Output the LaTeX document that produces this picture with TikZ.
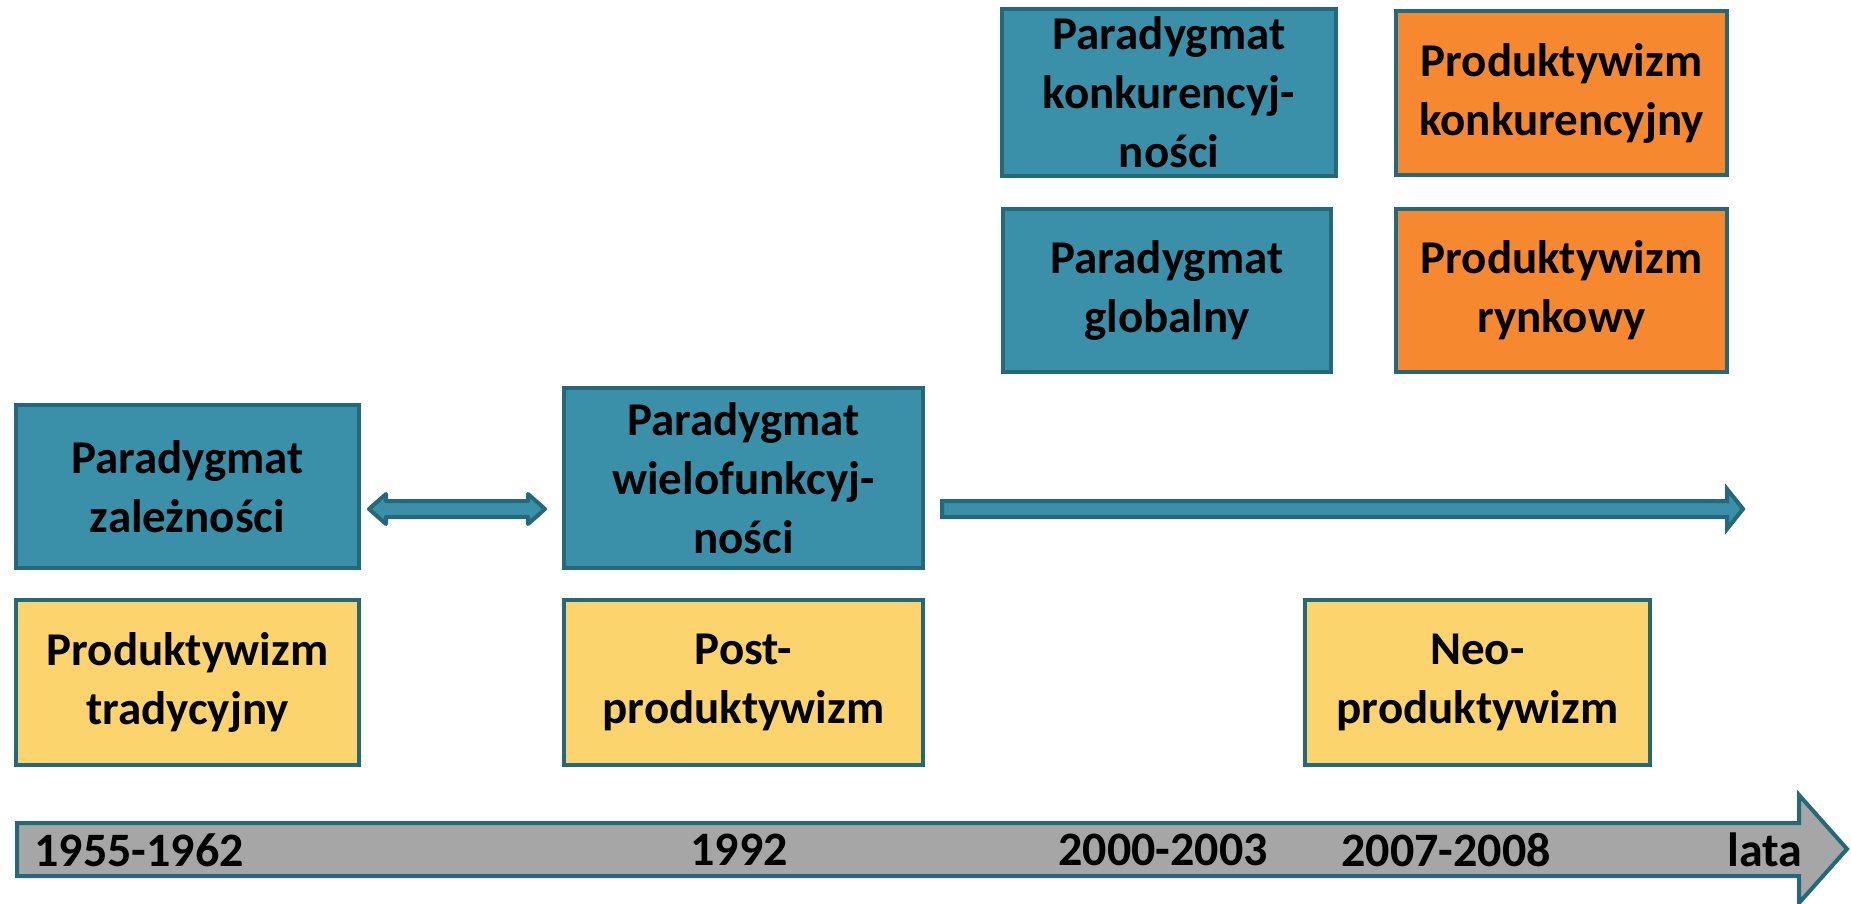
\documentclass[tikz,border=0pt]{standalone}
\usepackage{fontspec}
\setmainfont{Carlito}
\usetikzlibrary{calc}
\definecolor{tealf}{HTML}{3A90A8}
\definecolor{teald}{HTML}{25687A}
\definecolor{yel}{HTML}{FCD46E}
\definecolor{org}{HTML}{F6882F}
\definecolor{gry}{HTML}{A6A6A6}
\begin{document}
\begin{tikzpicture}[x=1pt,y=-1pt,
  box/.style={draw=teald, line width=4pt, inner sep=0pt, align=center,
    font=\fontsize{47}{59}\selectfont\bfseries, text=black},
  tealbox/.style={box, fill=tealf},
  yelbox/.style={box, fill=yel},
  orgbox/.style={box, fill=org},
  arrowshape/.style={draw=teald, fill=tealf, line width=4pt},
  yearlbl/.style={font=\fontsize{48}{58}\selectfont\bfseries, text=black, inner sep=0pt}]
\useasboundingbox (0,0) rectangle (1851,904);
% boxes
\node[tealbox, minimum width=343pt, minimum height=163pt] (A) at (187.5,486.5) {Paradygmat\\zależności};
\node[yelbox, minimum width=343pt, minimum height=165pt] (PT) at (187.5,682.5) {Produktywizm\\tradycyjny};
\node[tealbox, minimum width=359pt, minimum height=180pt] (B) at (743.5,478) {Paradygmat\\wielofunkcyj-\\ności};
\node[yelbox, minimum width=359pt, minimum height=165pt] (PP) at (743.5,682.5) {Post-\\produktywizm};
\node[tealbox, minimum width=334pt, minimum height=167pt] (K) at (1169,92.5) {Paradygmat\\konkurencyj-\\ności};
\node[tealbox, minimum width=328pt, minimum height=163pt] (G) at (1167,290.5) {Paradygmat\\globalny};
\node[orgbox, minimum width=331pt, minimum height=164pt] (PK) at (1561.5,93) {Produktywizm\\konkurencyjny};
\node[orgbox, minimum width=331pt, minimum height=163pt] (PR) at (1561.5,290.5) {Produktywizm\\rynkowy};
\node[yelbox, minimum width=345pt, minimum height=165pt] (N) at (1477.5,682.5) {Neo-\\produktywizm};
% double arrow between A and B
\coordinate (dl) at ($(A.east |- 0,509)+(8,0)$);
\coordinate (dr) at ($(B.west |- 0,509)+(-17,0)$);
\draw[arrowshape, line join=round] (dl) -- ++(17,-15) -- ++(0,7) -- ($(dr)+(-17,-8)$) -- ++(0,-7) -- (dr)
  -- ++(-17,15) -- ++(0,-7) -- ($(dl)+(17,8)$) -- ++(0,7) -- cycle;
% long arrow from B
\coordinate (rs) at ($(B.east |- 0,509)+(17,0)$);
\coordinate (rend) at (1743,509);
\draw[arrowshape, line join=miter] ($(rs)+(0,-8)$) -- ($(rend)+(-16,-8)$) -- ++(0,-12) -- (rend)
  -- ++(-16,20) -- ++(0,-12) -- ($(rs)+(0,8)$) -- cycle;
% time axis
\draw[draw=teald, fill=gry, line width=4pt, line join=miter] (17,823) -- (1799,823) -- (1799,795) -- (1847,849)
  -- (1799,903) -- (1799,876) -- (17,876) -- cycle;
\node[yearlbl] (y1) at (139,850) {1955-1962};
\node[yearlbl] (y2) at (739,850) {1992};
\node[yearlbl] (y3) at (1163,850) {2000-2003};
\node[yearlbl] (y4) at (1446,850) {2007-2008};
\node[yearlbl] (y5) at (1765,850) {lata};
\end{tikzpicture}
\end{document}
